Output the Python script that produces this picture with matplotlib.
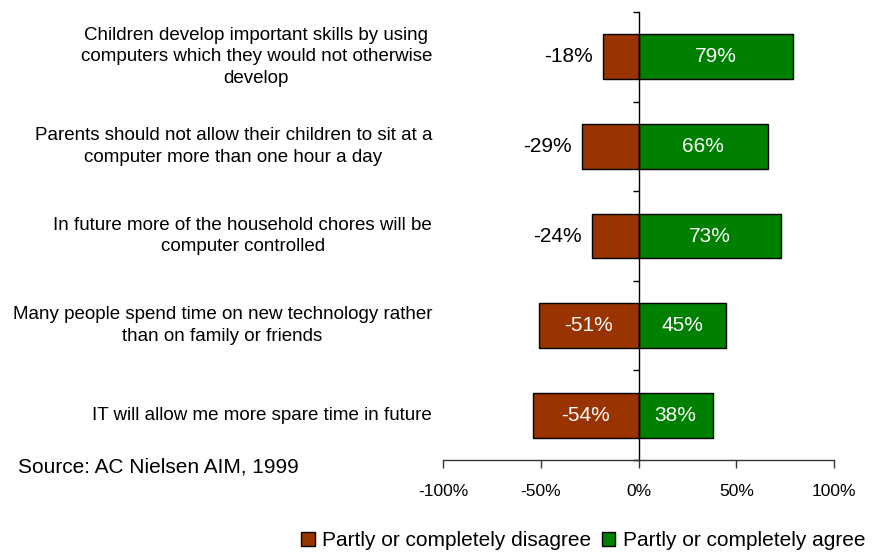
import numpy as np
import matplotlib.pyplot as plt
from matplotlib.transforms import offset_copy

plt.rcParams['font.family'] = ['Liberation Sans', 'DejaVu Sans']

# Survey statements and shares of answers (percent)
statements = [
    'Children develop important skills by using\ncomputers which they would not otherwise\ndevelop',
    'Parents should not allow their children to sit at a\ncomputer more than one hour a day',
    'In future more of the household chores will be\ncomputer controlled',
    'Many people spend time on new technology rather\nthan on family or friends',
    'IT will allow me more spare time in future',
]
disagree = [-18, -29, -24, -51, -54]
agree = [79, 66, 73, 45, 38]

disagree_color = '#993300'
agree_color = '#008000'

fig = plt.figure(figsize=(8.8, 5.53), dpi=100)
ax = fig.add_axes([443 / 880, 93 / 553, 391 / 880, 448 / 553])

y = np.arange(len(statements))
b1 = ax.barh(y, disagree, height=0.5, color=disagree_color, edgecolor='black', linewidth=1)
b2 = ax.barh(y, agree, height=0.5, color=agree_color, edgecolor='black', linewidth=1)

ax.set_xlim(-100, 100)
ax.set_ylim(len(statements) - 0.5, -0.5)

# vertical axis through zero with ticks between the categories
for s in ['top', 'right']:
    ax.spines[s].set_visible(False)
ax.spines['left'].set_position(('data', 0))
ax.spines['left'].set_linewidth(1)
ax.spines['bottom'].set_linewidth(1)
ax.spines['bottom'].set_color('#333333')
ax.set_yticks(np.arange(-0.5, len(statements), 1))
ax.set_yticklabels([])
ax.tick_params(axis='y', length=4, width=1, direction='out')
ax.set_xticks([-100, -50, 0, 50, 100])
ax.set_xticklabels(['-100%', '-50%', '0%', '50%', '100%'], fontsize=12.5)
ax.tick_params(axis='x', length=6, width=1, color='#333333', pad=11)

# statement labels to the left of the plot area
for yi, s in zip(y, statements):
    ax.text(-0.028, yi, s, transform=ax.get_yaxis_transform(), ha='right', va='center',
            multialignment='center', fontsize=13.5, linespacing=1.35)

# value labels
for yi, d, a in zip(y, disagree, agree):
    if abs(d) < 35:
        tr = offset_copy(ax.transData, fig=fig, x=-10, y=0, units='dots')
        ax.text(d, yi, f'{d}%', transform=tr, ha='right', va='center', fontsize=15, color='black')
    else:
        ax.text(d / 2, yi, f'{d}%', ha='center', va='center', fontsize=15, color='white')
    ax.text(a / 2, yi, f'{a}%', ha='center', va='center', fontsize=15, color='white')

fig.text(18 / 880, 1 - 467 / 553, 'Source: AC Nielsen AIM, 1999', fontsize=15, va='center', ha='left')

fig.legend([b1, b2], ['Partly or completely disagree', 'Partly or completely agree'],
           loc='center right', bbox_to_anchor=(0.995, 1 - 541 / 553), ncol=2, frameon=False,
           fontsize=15, handlelength=0.65, handleheight=0.65, handletextpad=0.35,
           columnspacing=0.5, borderpad=0)

fig.savefig('out.png', dpi=100)
